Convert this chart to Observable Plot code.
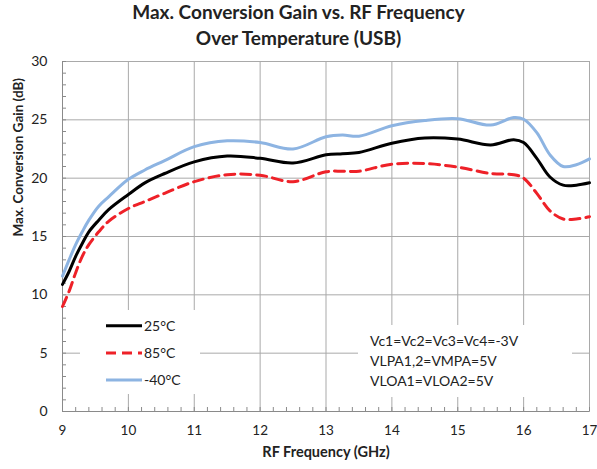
<!DOCTYPE html>
<html><head><meta charset="utf-8">
<script src="https://cdn.jsdelivr.net/npm/d3@7"></script>
<script src="https://cdn.jsdelivr.net/npm/@observablehq/plot@0.6"></script>
<style>
body{margin:0;background:#fff;font-family:Lato,sans-serif;color:#222;}
#wrap{position:relative;width:597px;height:469px;overflow:hidden;}
#title{height:50px;text-align:center;font-weight:bold;font-size:19px;line-height:26px;margin-top:-1px;}
#legend{position:absolute;left:80px;top:310px;width:120px;height:84px;background:#fff;}
#note{position:absolute;left:358px;top:325px;width:214px;height:72px;background:#fff;box-sizing:border-box;padding:6px 0 0 12px;font-size:14px;line-height:20px;}
</style></head><body>
<div id="wrap">
<div id="title">Max. Conversion Gain vs. RF Frequency<br>Over Temperature (USB)</div>
<div id="chart"></div>
<div id="legend"></div>
<div id="note"></div>
</div>
<script>
const freq = [9.0, 9.1, 9.2, 9.3, 9.4, 9.55, 9.7, 10.0, 10.25, 10.55, 11.0, 11.5, 12.0, 12.5, 13.0, 13.25, 13.5, 14.0, 14.5, 15.0, 15.5, 15.85, 16.0, 16.2, 16.4, 16.6, 16.8, 17.0];
const gain25 = [10.9, 12.0, 13.3, 14.4, 15.4, 16.4, 17.3, 18.6, 19.6, 20.4, 21.4, 21.9, 21.7, 21.3, 22.0, 22.1, 22.2, 23.0, 23.45, 23.35, 22.85, 23.3, 23.05, 21.7, 20.1, 19.4, 19.4, 19.6];
const gain85 = [9.0, 10.3, 11.9, 13.3, 14.3, 15.4, 16.3, 17.4, 18.0, 18.7, 19.7, 20.3, 20.25, 19.7, 20.55, 20.6, 20.6, 21.2, 21.25, 20.95, 20.4, 20.3, 20.0, 18.7, 17.2, 16.5, 16.5, 16.7];
const gainM40 = [11.6, 13.0, 14.3, 15.4, 16.4, 17.6, 18.4, 19.9, 20.7, 21.5, 22.7, 23.2, 23.05, 22.5, 23.55, 23.7, 23.6, 24.5, 24.95, 25.1, 24.55, 25.2, 25.05, 23.9, 22.0, 21.0, 21.15, 21.65];
const seriesNames = ["25°C", "85°C", "-40°C"];
const xTicks = [9, 10, 11, 12, 13, 14, 15, 16, 17];
const yTicks = [0, 5, 10, 15, 20, 25, 30];
const xMinor = d3.range(9, 17.001, 0.2).map(v => +v.toFixed(1));
const yMinor = d3.range(0, 31, 1);
const titleX = "RF Frequency (GHz)";
const titleY = "Max. Conversion Gain (dB)";
const notes = ["Vc1=Vc2=Vc3=Vc4=-3V", "VLPA1,2=VMPA=5V", "VLOA1=VLOA2=5V"];

const styles = [
  {stroke: "#000000", dash: null},
  {stroke: "#ee2128", dash: "10,6"},
  {stroke: "#8db4e2", dash: null}
];
const values = [gain25, gain85, gainM40];
const rows = values.map((arr, s) => freq.map((f, i) => ({f, g: arr[i], s})));

const grid = "#a9a9a9";
const chart = Plot.plot({
  width: 597, height: 419,
  marginTop: 12, marginBottom: 57, marginLeft: 62, marginRight: 8,
  style: {fontFamily: "Lato, sans-serif", fontSize: "14px", color: "#222", background: "white"},
  x: {domain: [9, 17], label: null},
  y: {domain: [0, 30], label: null},
  marks: [
    Plot.gridX(xTicks, {stroke: grid, strokeOpacity: 1}),
    Plot.gridY(yTicks, {stroke: grid, strokeOpacity: 1}),
    Plot.frame({stroke: grid}),
    Plot.axisX(xMinor, {tickSize: -4, text: null, stroke: "#8a8a8a", strokeOpacity: 1}),
    Plot.axisY(yMinor, {tickSize: -4, text: null, stroke: "#8a8a8a", strokeOpacity: 1}),
    Plot.axisX(xTicks, {tickSize: 0, tickPadding: 14, fontSize: 13.5, tickFormat: d => d}),
    Plot.axisY(yTicks, {tickSize: 0, tickPadding: 15, fontSize: 14, tickFormat: d => d}),
    Plot.ruleY([0], {stroke: "#8a8a8a"}),
    Plot.ruleX([9], {stroke: "#8a8a8a"}),
    ...rows.map((r, s) => Plot.line(r, {x: "f", y: "g", stroke: styles[s].stroke, strokeWidth: 3, strokeDasharray: styles[s].dash, curve: "catmull-rom"})),
    Plot.text([titleX], {frameAnchor: "bottom", dy: 45, fontWeight: "bold", fontSize: 14.5}),
    Plot.text([titleY], {frameAnchor: "left", rotate: -90, dx: -44, fontWeight: "bold", fontSize: 13.5})
  ]
});
document.getElementById("chart").append(chart);

// legend
const lg = d3.select("#legend").append("svg").attr("width", 120).attr("height", 84)
  .style("font-family", "Lato, sans-serif").style("font-size", "14px");
seriesNames.forEach((name, i) => {
  const y = 15.7 + i * 27.2;
  lg.append("line").attr("x1", 26).attr("x2", 62).attr("y1", y).attr("y2", y)
    .attr("stroke", styles[i].stroke).attr("stroke-width", 3)
    .attr("stroke-dasharray", styles[i].dash);
  lg.append("text").attr("x", 64).attr("y", y).attr("dy", "0.35em").attr("fill", "#222").text(name);
});
d3.select("#note").selectAll("div").data(notes).join("div").text(d => d);
</script>
</body></html>
